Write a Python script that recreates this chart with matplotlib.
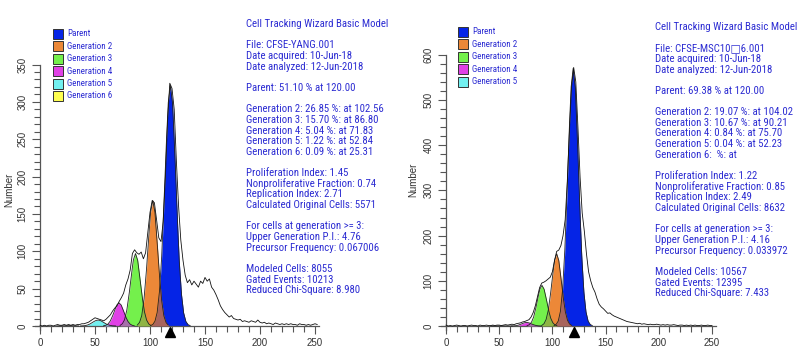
import numpy as np
import matplotlib
matplotlib.use("Agg")
import matplotlib.pyplot as plt
from matplotlib.patches import Rectangle
from matplotlib import font_manager as fm

# ---------------- data ----------------
hist_x_left = list(range(0, 254, 2))
hist_y_left = [1, 0, 1, 0, 1, 1, 0, 1, 2, 1, 1, 2, 1, 2, 1, 2, 1, 2, 2, 3,
               3, 4, 5, 7, 9, 11, 10, 9, 8, 7, 9, 12, 15, 20, 24, 27, 33, 38, 44, 55,
               63, 75, 97, 102, 98, 96, 99, 90, 98, 125, 152, 168, 165, 142, 118, 113, 140, 200, 275, 325,
               318, 290, 220, 160, 115, 88, 68, 58, 62, 55, 60, 56, 52, 60, 57, 65, 60, 63, 52, 48,
               42, 35, 27, 22, 18, 15, 12, 14, 10, 9, 8, 9, 6, 7, 6, 5, 7, 6, 5, 8,
               5, 4, 5, 3, 4, 3, 2, 4, 3, 2, 3, 2, 3, 2, 3, 2, 2, 1, 3, 2,
               2, 1, 2, 1, 2, 3, 2]

hist_x_right = list(range(0, 252, 2))
hist_y_right = [2, 0, 1, 0, 1, 2, 1, 0, 1, 1, 0, 1, 2, 1, 1, 0, 2, 1, 1, 2,
                1, 1, 2, 1, 2, 2, 1, 2, 3, 2, 3, 4, 3, 5, 6, 7, 9, 10, 12, 14,
                20, 30, 45, 65, 85, 95, 97, 100, 104, 108, 120, 145, 165, 168, 178, 200, 235, 320, 430, 530,
                572, 540, 440, 330, 250, 210, 160, 120, 100, 85, 75, 60, 48, 42, 38, 33, 28, 29, 25, 22,
                20, 18, 16, 14, 12, 10, 9, 8, 7, 6, 5, 6, 4, 5, 4, 3, 4, 3, 3, 4,
                3, 2, 3, 2, 3, 2, 2, 3, 2, 1, 2, 2, 1, 2, 1, 2, 1, 2, 1, 1,
                2, 1, 1, 2, 1, 1]

offs19 = list(range(-18, 19, 2))
offs15 = list(range(-14, 15, 2))
offs17 = list(range(-16, 17, 2))
offs11 = list(range(-10, 11, 2))

left_names = ["Parent", "Generation 2", "Generation 3", "Generation 4", "Generation 5", "Generation 6"]
left_centres = [118.5, 102.5, 86.8, 71.8, 52.8, 25.3]
left_offsets = [offs19, offs15, offs15, offs15, offs17, offs11]
left_values = [
    [0.5, 1.9, 6.4, 18, 44, 89, 157, 234, 298, 322, 298, 234, 157, 89, 44, 18, 6.4, 1.9, 0.5],
    [1.3, 4.8, 14, 35, 69, 113, 152, 168, 152, 113, 69, 35, 14, 4.8, 1.3],
    [0.8, 2.8, 8.2, 20, 40, 65, 88, 97, 88, 65, 40, 20, 8.2, 2.8, 0.8],
    [0.25, 0.9, 2.6, 6.4, 12.7, 20.9, 28.1, 31, 28.1, 20.9, 12.7, 6.4, 2.6, 0.9, 0.25],
    [0.05, 0.16, 0.45, 1.1, 2.2, 3.9, 5.8, 7.4, 8, 7.4, 5.8, 3.9, 2.2, 1.1, 0.45, 0.16, 0.05],
    [0.08, 0.17, 0.29, 0.44, 0.55, 0.6, 0.55, 0.44, 0.29, 0.17, 0.08],
]

right_names = ["Parent", "Generation 2", "Generation 3", "Generation 4", "Generation 5"]
right_centres = [119.5, 104.0, 90.2, 75.7, 52.2]
right_offsets = [offs19, offs15, offs15, offs15, offs11]
right_values = [
    [0.9, 3.5, 11, 32, 77, 158, 277, 415, 527, 570, 527, 415, 277, 158, 77, 32, 11, 3.5, 0.9],
    [1.3, 4.6, 13.6, 33, 66, 108, 145, 160, 145, 108, 66, 33, 13.6, 4.6, 1.3],
    [0.7, 2.6, 7.7, 18.5, 37, 61, 81.5, 90, 81.5, 61, 37, 18.5, 7.7, 2.6, 0.7],
    [0.06, 0.23, 0.68, 1.65, 3.3, 5.4, 7.2, 8, 7.2, 5.4, 3.3, 1.65, 0.68, 0.23, 0.06],
    [0.05, 0.1, 0.2, 0.3, 0.38, 0.4, 0.38, 0.3, 0.2, 0.1, 0.05],
]

left_marker = 118
right_marker = 120

left_text = [
    "Cell Tracking Wizard Basic Model", "",
    "File: CFSE-YANG.001", "Date acquired: 10-Jun-18", "Date analyzed: 12-Jun-2018", "",
    "Parent: 51.10 % at 120.00", "",
    "Generation 2: 26.85 %: at 102.56", "Generation 3: 15.70 %: at 86.80",
    "Generation 4: 5.04 %: at 71.83", "Generation 5: 1.22 %: at 52.84",
    "Generation 6: 0.09 %: at 25.31", "",
    "Proliferation Index: 1.45", "Nonproliferative Fraction: 0.74",
    "Replication Index: 2.71", "Calculated Original Cells: 5571", "",
    "For cells at generation >= 3:", "Upper Generation P.I.: 4.76",
    "Precursor Frequency: 0.067006", "",
    "Modeled Cells: 8055", "Gated Events: 10213", "Reduced Chi-Square: 8.980",
]
right_text = [
    "Cell Tracking Wizard Basic Model", "",
    "File: CFSE-MSC10\u25a16.001", "Date acquired: 10-Jun-18", "Date analyzed: 12-Jun-2018", "",
    "Parent: 69.38 % at 120.00", "",
    "Generation 2: 19.07 %: at 104.02", "Generation 3: 10.67 %: at 90.21",
    "Generation 4: 0.84 %: at 75.70", "Generation 5: 0.04 %: at 52.23",
    "Generation 6:  %: at", "",
    "Proliferation Index: 1.22", "Nonproliferative Fraction: 0.85",
    "Replication Index: 2.49", "Calculated Original Cells: 8632", "",
    "For cells at generation >= 3:", "Upper Generation P.I.: 4.16",
    "Precursor Frequency: 0.033972", "",
    "Modeled Cells: 10567", "Gated Events: 12395", "Reduced Chi-Square: 7.433",
]

# ---------------- fonts ----------------
available = {f.name for f in fm.fontManager.ttflist}
NARROW = 'Liberation Sans'
for cand in ['Liberation Sans Narrow', 'Arial Narrow', 'Roboto Condensed', 'Archivo Narrow',
             'Encode Sans Condensed', 'Asap Condensed', 'Fira Sans Condensed',
             'IBM Plex Sans Condensed', 'Liberation Sans']:
    if cand in available:
        NARROW = cand
        break
FAM_N = [NARROW, 'DejaVu Sans']
FAM_R = ['Liberation Sans', 'DejaVu Sans']
plt.rcParams['font.family'] = FAM_R

# ---------------- style ----------------
COLORS = ['#0524e6', '#ec8838', '#74f04c', '#e040e6', '#72f0f0', '#ffff50']
BLENDS = ['#a8645c', '#8fb444', '#a670aa', '#9aa0d8', '#c0d0a0']
TXT = '#2c2cd2'
AXC = '#555555'
LABC = '#333333'
W, H = 800, 358

fig = plt.figure(figsize=(W / 100, H / 100), dpi=100)
renderer = fig.canvas.get_renderer()


def fit_size(sample, target_px, family):
    t = fig.text(0, 0, sample, fontsize=10, family=family)
    bb = t.get_window_extent(renderer)
    t.remove()
    return 10 * target_px / bb.width


FS_BLOCK = min(fit_size("Generation 2: 26.85 %: at 102.56", 137, FAM_N), 9.0)
FS_LEG = min(fit_size("Generation 2", 45, FAM_N), 8.0)
FS_TICK = 7.0


def fx(px):
    return px / W


def fy(py):
    return 1 - py / H


def panel(ax_px, xlim, ylim, ytop, ymaj, ymin, hx, hy, names, centres, offsets, values, marker):
    l, r, t, b = ax_px
    ax = fig.add_axes([fx(l), fy(b), fx(r - l), (b - t) / H])
    ax.set_xlim(*xlim)
    ax.set_ylim(*ylim)
    for s in ['top', 'right']:
        ax.spines[s].set_visible(False)
    ax.spines['left'].set_position(('data', 0))
    ax.spines['bottom'].set_position(('data', 0))
    ax.spines['left'].set_bounds(-ytop * 0.015, ytop)
    ax.spines['bottom'].set_bounds(-5, 254)
    for s in ['left', 'bottom']:
        ax.spines[s].set_color(AXC)
        ax.spines[s].set_linewidth(0.9)
    ax.set_xticks(np.arange(0, 251, 50))
    ax.set_xticks(np.arange(0, 251, 10), minor=True)
    ax.set_yticks(np.arange(0, ytop + 1, ymaj))
    ax.set_yticks(np.arange(0, ytop + 1, ymin), minor=True)
    ax.tick_params(which='major', length=6, width=0.8, color=AXC, labelsize=FS_TICK,
                   labelcolor=LABC, pad=3)
    ax.tick_params(which='minor', length=4, width=0.8, color=AXC)
    for lab in ax.get_yticklabels():
        lab.set_rotation(90)
        lab.set_va('center')
    ax.patch.set_alpha(0)

    grid = np.linspace(0, 160, 1601)
    curves = []
    for c, o, v in zip(centres, offsets, values):
        xs = np.array(o, float) + c
        curves.append(np.interp(grid, xs, v, left=0, right=0))
    for cv, col in zip(curves, COLORS):
        ax.fill_between(grid, 0, cv, where=cv > 0.02, color=col, lw=0, zorder=2)
    for i in range(len(curves) - 1):
        ov = np.minimum(curves[i], curves[i + 1])
        ax.fill_between(grid, 0, ov, where=ov > 0.02, color=BLENDS[i], lw=0, zorder=3)
    for cv in curves:
        m = cv > 0.02
        ax.plot(grid[m], cv[m], color='#222222', lw=0.6, zorder=4)
    ax.plot(hx, hy, color='#111111', lw=0.6, zorder=5)
    ax.plot([marker], [-(ylim[1] - ylim[0]) * 0.022], marker='^', color='black', ms=7,
            clip_on=False, zorder=6)
    return ax


axL = panel((30, 320, 55, 340), ((30 - 40) / 1.1, (320 - 40) / 1.1),
            (-(340 - 326) / 0.747, (326 - 55) / 0.747), 350, 50, 10,
            hist_x_left, hist_y_left, left_names, left_centres, left_offsets, left_values, left_marker)
axR = panel((436, 716, 45, 340), ((436 - 446) / 1.064, (716 - 446) / 1.064),
            (-(340 - 326) / 0.452, (326 - 45) / 0.452), 600, 100, 20,
            hist_x_right, hist_y_right, right_names, right_centres, right_offsets, right_values, right_marker)

fig.text(fx(9), fy(190), "Number", rotation=90, ha='center', va='center', fontsize=FS_TICK, color=LABC)
fig.text(fx(413), fy(180), "Number", rotation=90, ha='center', va='center', fontsize=FS_TICK, color=LABC)


def legend(x0, y0, names):
    for i, nm in enumerate(names):
        yc = y0 + i * 12.4
        fig.patches.append(Rectangle((fx(x0), fy(yc + 5)), 10 / W, 10 / H, transform=fig.transFigure,
                                     facecolor=COLORS[i], edgecolor='#333333', lw=0.7))
        fig.text(fx(x0 + 14), fy(yc), nm, ha='left', va='center', fontsize=FS_LEG, color=TXT,
                 family=FAM_N)


legend(53, 34, left_names)
legend(458, 32, right_names)


def block(x0, y0, lines):
    for i, s in enumerate(lines):
        if s:
            fig.text(fx(x0), fy(y0 + i * 10.65), s, ha='left', va='center', fontsize=FS_BLOCK,
                     color=TXT, family=FAM_N)


block(246, 24, left_text)
block(655, 27, right_text)

fig.savefig("out.png", dpi=100)
